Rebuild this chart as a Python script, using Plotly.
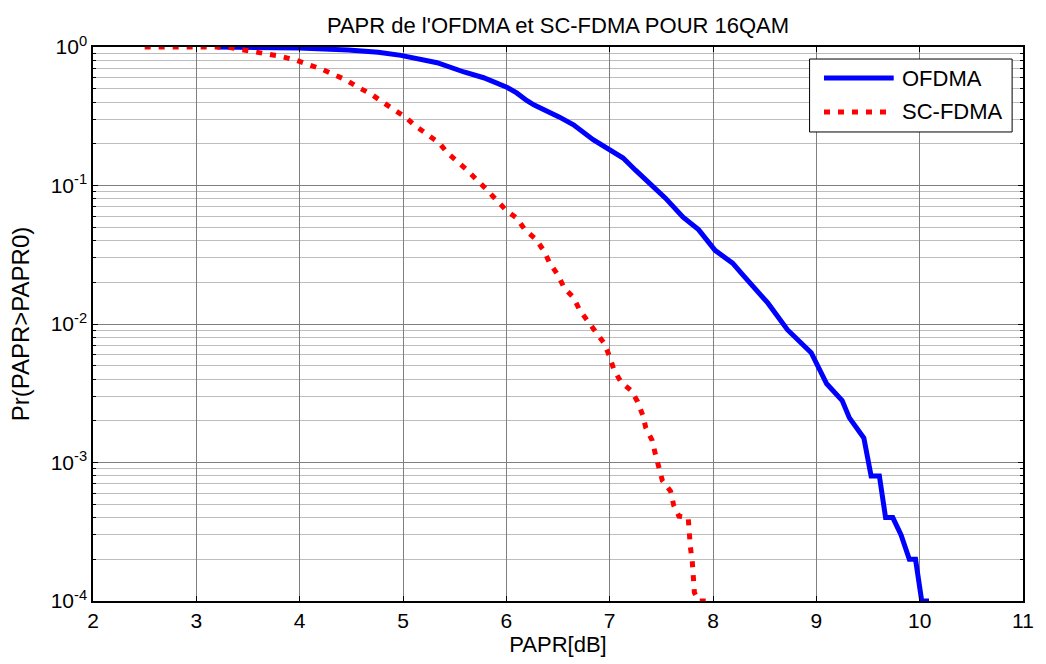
import plotly.graph_objects as go

# PAPR CCDF curves (probability that PAPR exceeds PAPR0), 16QAM
ofdma_name = "OFDMA"
ofdma_papr = [3.2, 3.8, 4.0, 4.47, 4.76, 4.98, 5.33, 5.59, 5.78, 6.01, 6.10, 6.20, 6.27,
              6.51, 6.65, 6.84, 7.0, 7.13, 7.25, 7.38, 7.54, 7.71, 7.86, 8.02, 8.19, 8.28,
              8.53, 8.72, 8.79, 8.95, 9.10, 9.25, 9.32, 9.46, 9.53, 9.61, 9.67, 9.74,
              9.82, 9.90, 9.96, 10.02, 10.09]
ofdma_ccdf = [1.0, 1.0, 0.985, 0.95, 0.915, 0.87, 0.77, 0.66, 0.60, 0.51, 0.466, 0.41,
              0.381, 0.313, 0.274, 0.214, 0.18, 0.158, 0.129, 0.106, 0.081, 0.059, 0.048,
              0.034, 0.0275, 0.023, 0.0142, 0.0091, 0.0081, 0.0062, 0.0037, 0.0028,
              0.0021, 0.0015, 0.0008, 0.0008, 0.0004, 0.0004, 0.0003, 0.0002, 0.0002,
              0.0001, 0.0001]

scfdma_name = "SC-FDMA"
scfdma_papr = [2.5, 3.3, 3.41, 3.55, 3.67, 3.80, 3.96, 4.08, 4.21, 4.34, 4.45, 4.56, 4.69,
               4.80, 4.91, 5.02, 5.12, 5.24, 5.35, 5.43, 5.62, 5.81, 6.0, 6.10, 6.18, 6.29,
               6.37, 6.42, 6.5, 6.56, 6.65, 6.71, 6.79, 6.87, 6.95, 7.0, 7.04, 7.11, 7.21,
               7.27, 7.32, 7.35, 7.41, 7.44, 7.47, 7.51, 7.59, 7.62, 7.67, 7.76, 7.78,
               7.80, 7.82, 7.86, 8.0]
scfdma_ccdf = [1.0, 1.0, 0.966, 0.933, 0.891, 0.861, 0.805, 0.753, 0.693, 0.628, 0.578,
               0.514, 0.458, 0.401, 0.356, 0.313, 0.269, 0.232, 0.203, 0.172, 0.129,
               0.0933, 0.066, 0.0582, 0.0479, 0.0407, 0.0331, 0.0275, 0.0226, 0.0182,
               0.0155, 0.0126, 0.0104, 0.0087, 0.0072, 0.0058, 0.0047, 0.0038, 0.0033,
               0.00275, 0.0022, 0.00178, 0.00145, 0.00117, 0.00093, 0.00074, 0.00062,
               0.00049, 0.00041, 0.0004, 0.00025, 0.00019, 0.000115, 0.0001, 0.0001]

x_ticks = list(range(2, 12))
y_ticks = [1e-4, 1e-3, 1e-2, 1e-1, 1]
y_tick_text = ["10<sup>-4</sup>", "10<sup>-3</sup>", "10<sup>-2</sup>",
               "10<sup>-1</sup>", "10<sup>0</sup>"]

font = "Liberation Sans, Arial, sans-serif"
blue_line = dict(color="#0000ff", width=5)
red_line = dict(color="#ff0000", width=5, dash="6px,8px")

fig = go.Figure()
fig.add_trace(go.Scatter(x=ofdma_papr, y=ofdma_ccdf, mode="lines", name=ofdma_name,
                         line=blue_line, showlegend=False))
fig.add_trace(go.Scatter(x=scfdma_papr, y=scfdma_ccdf, mode="lines", name=scfdma_name,
                         line=red_line, showlegend=False))

# MATLAB-style legend box with long line samples (paper coordinates)
box = dict(x0=0.7705, x1=0.9883, y0=0.8466, y1=0.9783)
fig.add_shape(type="rect", xref="paper", yref="paper", **box,
              line=dict(color="black", width=1), fillcolor="white", layer="above")
for name, style, yy in [(ofdma_name, blue_line, 0.944), (scfdma_name, red_line, 0.8827)]:
    fig.add_shape(type="line", xref="paper", yref="paper", x0=0.786, x1=0.861,
                  y0=yy, y1=yy, line=style, layer="above")
    fig.add_annotation(xref="paper", yref="paper", x=0.8677, y=yy, text=name,
                       showarrow=False, xanchor="left", yanchor="middle",
                       font=dict(family=font, size=22, color="black"))

fig.update_layout(
    width=1046, height=664,
    paper_bgcolor="white", plot_bgcolor="white",
    margin=dict(l=93, r=16, t=47, b=63),
    font=dict(family=font, size=21, color="black"),
    title=dict(text="PAPR de l'OFDMA et SC-FDMA POUR 16QAM", x=0.5, xanchor="center",
               xref="paper", y=0.962, yanchor="middle", font=dict(size=22)),
    showlegend=False,
)
fig.update_xaxes(
    range=[2, 11], tickvals=x_ticks, ticks="inside", ticklen=5, tickcolor="black",
    showline=True, linecolor="black", linewidth=1.5, mirror="ticks",
    showgrid=True, gridcolor="#7f7f7f", gridwidth=1, zeroline=False,
    title=dict(text="PAPR[dB]", font=dict(size=22), standoff=4),
    tickfont=dict(size=21),
)
fig.update_yaxes(
    type="log", range=[-4, 0], tickvals=y_ticks, ticktext=y_tick_text,
    ticks="inside", ticklen=5, tickcolor="black",
    showline=True, linecolor="black", linewidth=1.5, mirror="ticks",
    showgrid=True, gridcolor="#7f7f7f", gridwidth=1, zeroline=False,
    minor=dict(dtick="D1", showgrid=True, gridcolor="#bdbdbd", gridwidth=1,
               ticks="inside", ticklen=3, tickcolor="black"),
    title=dict(text="Pr(PAPR>PAPR0)", font=dict(size=24), standoff=14),
    tickfont=dict(size=21),
)

fig.write_html("out.html")
